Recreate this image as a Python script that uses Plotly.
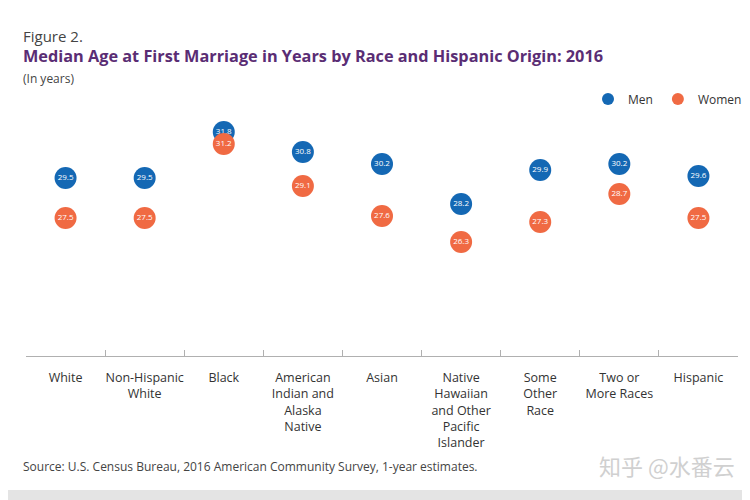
import plotly.graph_objects as go

categories = ["White", "Non-Hispanic<br>White", "Black", "American<br>Indian and<br>Alaska<br>Native",
              "Asian", "Native<br>Hawaiian<br>and Other<br>Pacific<br>Islander", "Some<br>Other<br>Race",
              "Two or<br>More Races", "Hispanic"]
men = [29.5, 29.5, 31.8, 30.8, 30.2, 28.2, 29.9, 30.2, 29.6]
women = [27.5, 27.5, 31.2, 29.1, 27.6, 26.3, 27.3, 28.7, 27.5]

BLUE = "#1468b4"
ORANGE = "#f06a43"
FONT = "Open Sans"

# page body has an 8px margin; work in window pixels and convert
OFF = 8
W, H = 750 - OFF, 500 - OFF
# plot area in window pixels: x 26..738, y 110..356
L, R, T, B = 26 - OFF, 750 - 738, 110 - OFF, 500 - 356
PW, PH = W - L - R, H - T - B


def px(x):
    return (x - OFF - L) / PW


def py(y):
    return (H - B - (y - OFF)) / PH


fig = go.Figure()
fig.add_trace(go.Scatter(
    x=categories, y=men, name="Men", mode="markers+text",
    marker=dict(size=22, color=BLUE),
    text=[f"{v:.1f}" for v in men], textposition="middle center",
    textfont=dict(color="white", size=8, family=FONT),
))
fig.add_trace(go.Scatter(
    x=categories, y=women, name="Women", mode="markers+text",
    marker=dict(size=22, color=ORANGE),
    text=[f"{v:.1f}" for v in women], textposition="middle center",
    textfont=dict(color="white", size=8, family=FONT),
))


def ann(text, x, y, size, color, family=FONT):
    return dict(text=text, x=px(x), y=py(y), xref="paper", yref="paper", showarrow=False,
                xanchor="left", yanchor="middle", font=dict(size=size, color=color, family=family))


fig.update_layout(
    width=W, height=H,
    margin=dict(l=L, r=R, t=T, b=B, autoexpand=False),
    paper_bgcolor="white", plot_bgcolor="white",
    font=dict(family=FONT, color="#333333"),
    showlegend=True,
    legend=dict(orientation="h", x=px(588), y=py(99), xanchor="left", yanchor="middle",
                font=dict(size=12, color="#333333"), itemsizing="constant",
                bgcolor="rgba(0,0,0,0)"),
    xaxis=dict(type="category", range=[-0.5, 8.5], showgrid=False, showline=True,
               linecolor="#b0b0b0", linewidth=1, ticks="inside", ticklen=6,
               tickcolor="#b0b0b0", tickson="boundaries", tickangle=0, automargin=False,
               ticklabelstandoff=10,
               tickfont=dict(size=12.5, color="#333333"), fixedrange=True),
    yaxis=dict(range=[20.6, 32.9], visible=False, showgrid=False, zeroline=False, automargin=False),
    annotations=[
        ann("Figure 2.", 21, 36, 15, "#444444"),
        ann("<b>Median Age at First Marriage in Years by Race and Hispanic Origin: 2016</b>", 21, 56, 16.3, "#5a2d74"),
        ann("(In years)", 21, 78, 12, "#444444"),
        ann("Source: U.S. Census Bureau, 2016 American Community Survey, 1-year estimates.", 21, 466, 12, "#444444"),
        ann("知乎 @水番云", 597, 465, 22, "#d0d0d0", "Noto Sans CJK SC"),
    ],
)

fig.add_shape(type="rect", xref="paper", yref="paper",
              x0=px(0), x1=px(750), y0=py(500), y1=py(490),
              fillcolor="#e4e4e4", line=dict(width=0), layer="below")

fig.write_html("out.html")
